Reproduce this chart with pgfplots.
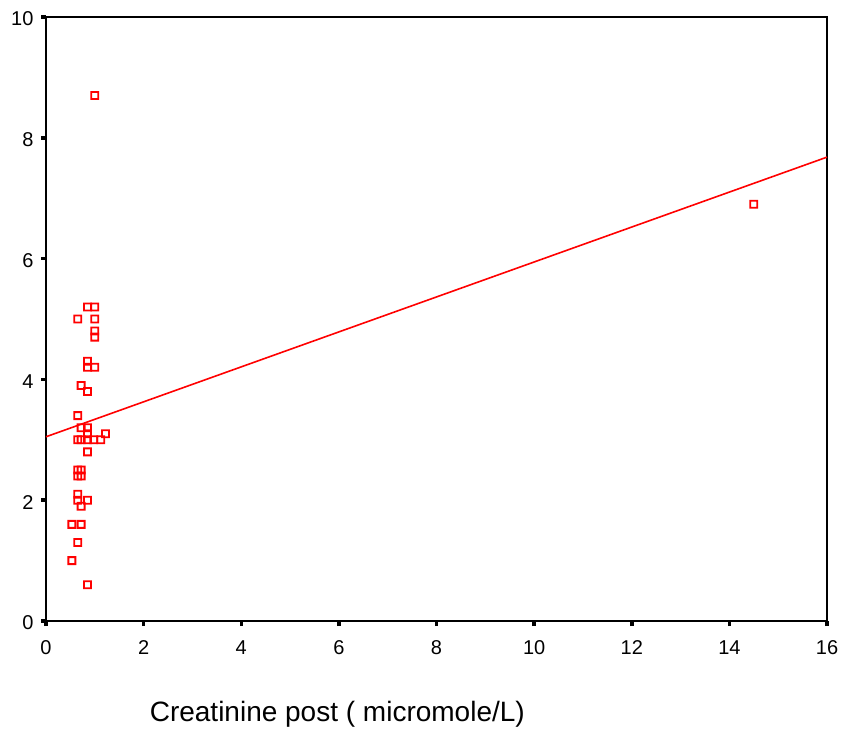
\documentclass[border=0pt]{standalone}
\usepackage{pgfplots}
\pgfplotsset{compat=1.18}
\usepackage{fontspec}
\setmainfont{Liberation Sans}
\definecolor{spssred}{RGB}{255,0,0}
\pgfdeclareplotmark{hollowsq}{%
  \pgfpathrectangle{\pgfpoint{-\pgfplotmarksize}{-\pgfplotmarksize}}{\pgfpoint{2\pgfplotmarksize}{2\pgfplotmarksize}}%
  \pgfpathrectangle{\pgfpoint{-\pgfplotmarksize+1.8pt}{-\pgfplotmarksize+1.8pt}}{\pgfpoint{2\pgfplotmarksize-3.6pt}{2\pgfplotmarksize-3.6pt}}%
  \pgfseteorule\pgfusepathqfill}
\begin{document}
\begin{tikzpicture}[x=1pt,y=1pt]
\path[use as bounding box] (0,0) rectangle (843,734);
\begin{axis}[
  at={(46pt,113pt)}, anchor=south west,
  scale only axis, width=781pt, height=604pt,
  xmin=0, xmax=16, ymin=0, ymax=10,
  xtick={0,2,...,16}, ytick={0,2,...,10},
  axis line style={line width=2pt},
  tick align=outside, major tick length=5pt,
  tick style={line width=3.5pt, black},
  xtick pos=bottom, ytick pos=left,
  /pgf/number format/assume math mode=true,
  tick label style={font=\fontsize{20}{24}\selectfont},
  xticklabel style={yshift=-11pt},
  yticklabel style={xshift=-4pt, yshift=-2pt},
  xlabel={Creatinine post ( micromole/L)},
  xlabel style={font=\fontsize{28}{32}\selectfont, at={(axis description cs:0.373,0)}, anchor=center, yshift=-93pt},
]
\addplot[only marks, mark=hollowsq, mark size=4.4pt, color=spssred, mark options={fill=spssred, draw=none}] coordinates {
(1.0,8.7) (14.5,6.9) (0.85,5.2) (1.0,5.2) (0.65,5.0) (1.0,5.0) (1.0,4.8) (1.0,4.7)
(0.85,4.3) (0.85,4.2) (1.0,4.2) (0.72,3.9) (0.85,3.8) (0.65,3.4) (0.72,3.2) (0.85,3.2)
(0.85,3.1) (1.22,3.1) (0.65,3.0) (0.72,3.0) (0.85,3.0) (0.98,3.0) (1.12,3.0) (0.85,2.8)
(0.65,2.5) (0.72,2.5) (0.65,2.4) (0.72,2.4) (0.65,2.1) (0.65,2.0) (0.72,1.9) (0.85,2.0)
(0.53,1.6) (0.72,1.6) (0.65,1.3) (0.53,1.0) (0.85,0.6)
};
\addplot[spssred, line width=1.6pt] coordinates {(0,3.05) (16,7.68)};
\end{axis}
\end{tikzpicture}
\end{document}
